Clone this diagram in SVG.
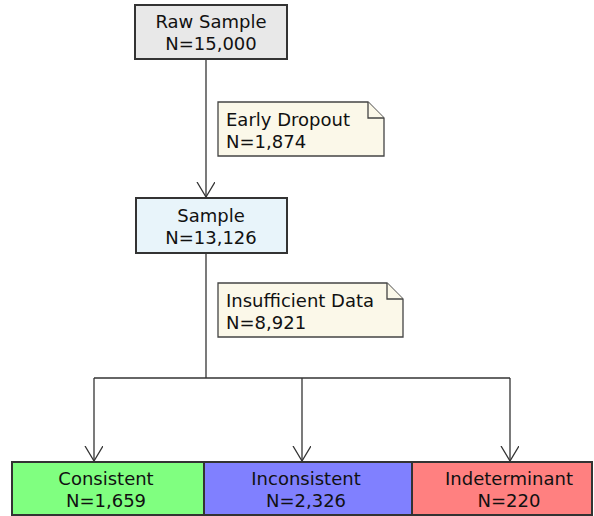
<svg xmlns="http://www.w3.org/2000/svg" width="594" height="516" viewBox="0 0 594 516">
<defs>
<marker id="arr" markerWidth="20" markerHeight="20" refX="15" refY="9" orient="auto" markerUnits="userSpaceOnUse">
<path d="M0,0 L15,9 L0,18" fill="none" stroke="#333" stroke-width="1.3"/>
</marker>
<style>
text{font-family:"DejaVu Sans","Liberation Sans",sans-serif;font-size:18px;fill:#111}
.c{text-anchor:middle}
.box{stroke:#333;stroke-width:2}
.note{fill:#fbf8e9;stroke:#444;stroke-width:1.3}
.edge{fill:none;stroke:#333;stroke-width:1.3}
</style>
</defs>
<rect width="594" height="516" fill="#fff"/>
<g id="connectors">
<line class="edge" x1="206" y1="60" x2="206" y2="197" marker-end="url(#arr)"/>
<polyline class="edge" points="206,254 206,378"/>
<polyline class="edge" points="94,378 510,378"/>
<line class="edge" x1="94" y1="378" x2="94" y2="461" marker-end="url(#arr)"/>
<line class="edge" x1="302" y1="378" x2="302" y2="461" marker-end="url(#arr)"/>
<line class="edge" x1="510" y1="378" x2="510" y2="461" marker-end="url(#arr)"/>
</g>
<g id="raw">
<rect class="box" x="135" y="5" width="152" height="54" fill="#e8e8e8"/>
<text class="c" x="211" y="28">Raw Sample</text>
<text class="c" x="211" y="50">N=15,000</text>
</g>
<g id="dropout">
<path class="note" d="M218,102 H368 L384,118 V156 H218 Z"/>
<path class="note" d="M368,102 V118 H384"/>
<text x="226" y="126">Early Dropout</text>
<text x="226" y="148">N=1,874</text>
</g>
<g id="sample">
<rect class="box" x="136" y="198" width="151" height="55" fill="#e8f4fa"/>
<text class="c" x="211" y="222">Sample</text>
<text class="c" x="211" y="244">N=13,126</text>
</g>
<g id="insufficient">
<path class="note" d="M218,283 H387 L403,299 V337 H218 Z"/>
<path class="note" d="M387,283 V299 H403"/>
<text x="226" y="307">Insufficient Data</text>
<text x="226" y="329">N=8,921</text>
</g>
<g id="consistent">
<rect class="box" x="12" y="462" width="192" height="53" fill="#80ff80"/>
<text class="c" x="106" y="485">Consistent</text>
<text class="c" x="106" y="507">N=1,659</text>
</g>
<g id="inconsistent">
<rect class="box" x="204" y="462" width="208" height="53" fill="#8080ff"/>
<text class="c" x="306" y="485">Inconsistent</text>
<text class="c" x="306" y="507">N=2,326</text>
</g>
<g id="indeterminant">
<rect class="box" x="412" y="462" width="180" height="53" fill="#ff8080"/>
<text class="c" x="509" y="485">Indeterminant</text>
<text class="c" x="509" y="507">N=220</text>
</g>
</svg>
